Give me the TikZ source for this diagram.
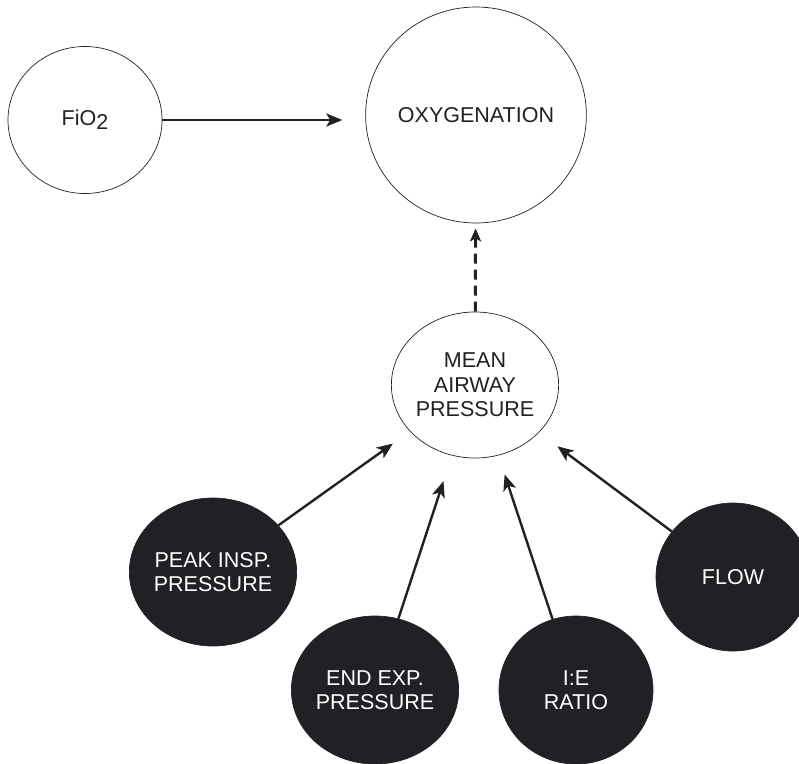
\documentclass[tikz,border=0pt]{standalone}
\usepackage{fontspec}
\setmainfont{Liberation Sans}
\usepackage{tikz}
\usetikzlibrary{arrows.meta,shapes.geometric}
\definecolor{ink}{HTML}{202124}

\begin{document}
\begin{tikzpicture}[x=1pt,y=-1pt,
  bubble/.style={ellipse, draw=ink, line width=0.7pt, inner sep=0pt, align=center,
    text=ink, font=\fontsize{21.5}{24.5}\selectfont},
  factor/.style={bubble, fill=ink, text=white, minimum width=154pt, minimum height=148pt},
  link/.style={draw=ink, line width=2.4pt, -{Stealth[length=16pt,width=13pt,inset=4pt]}}]

  % page frame
  \useasboundingbox (0,0) rectangle (799,763);

  % outcome and direct input
  \node[bubble, minimum width=154pt, minimum height=147pt] (fio) at (85,120)
    {FiO\raisebox{-4pt}{2}};
  \node[bubble, minimum width=215pt, minimum height=216pt] (oxy) at (476,115) {OXYGENATION};
  \node[bubble, minimum width=155pt, minimum height=146pt] (mean) at (475,385)
    {MEAN\\AIRWAY\\PRESSURE};

  % ventilator settings
  \node[factor] (peak) at (213,572) {PEAK INSP.\\PRESSURE};
  \node[factor] (peep) at (375,690) {END EXP.\\PRESSURE};
  \node[factor] (ratio) at (576,690) {I:E\\RATIO};
  \node[factor] (flow) at (733,577) {FLOW};

  \draw[link, shorten >=23pt] (fio) -- (fio -| oxy.west);
  \draw[link, line width=3pt, dash pattern=on 10pt off 6pt, shorten >=5pt,
    -{Stealth[length=13pt,width=11pt,inset=3pt]}] (mean) -- (oxy);

  \draw[link, shorten >=21pt] (peak) -- (mean);
  \draw[link, shorten >=27pt] (peep) -- (mean);
  \draw[link, shorten >=20pt] (ratio) -- (mean);
  \draw[link, shorten >=23pt] (flow) -- (mean);
\end{tikzpicture}
\end{document}
